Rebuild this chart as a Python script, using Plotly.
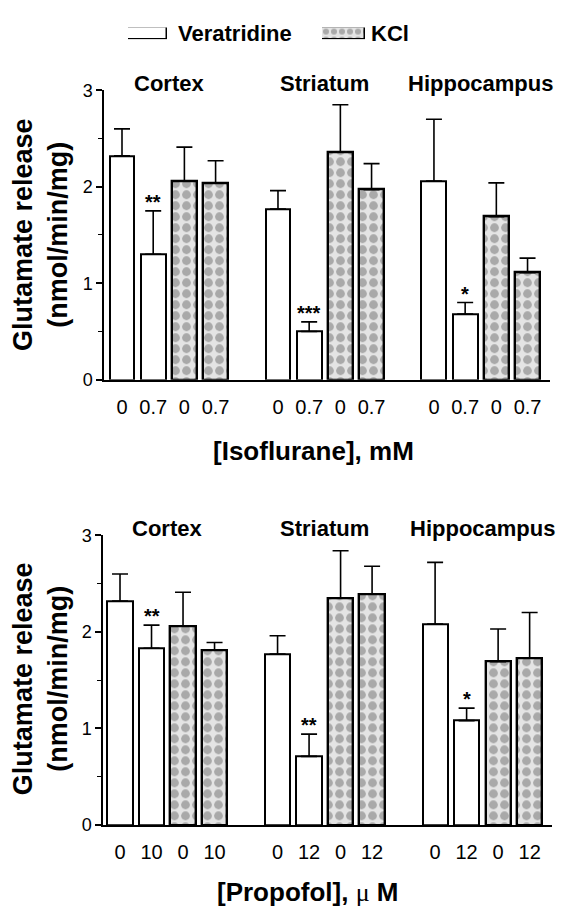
import plotly.graph_objects as go

# ---------------- data ----------------
regions = ["Cortex", "Striatum", "Hippocampus"]

iso_doses = ["0", "0.7"]
iso_ver = [2.32, 1.30, 1.77, 0.50, 2.06, 0.68]          # per region: control, drug
iso_ver_err = [0.28, 0.45, 0.19, 0.10, 0.64, 0.12]
iso_kcl = [2.06, 2.04, 2.36, 1.97, 1.69, 1.11]
iso_kcl_err = [0.35, 0.23, 0.49, 0.27, 0.35, 0.15]
iso_sig = ["", "**", "", "***", "", "*"]

prop_doses = [["0", "10"], ["0", "12"], ["0", "12"]]
prop_ver = [2.32, 1.83, 1.77, 0.71, 2.08, 1.08]
prop_ver_err = [0.28, 0.24, 0.19, 0.23, 0.64, 0.13]
prop_kcl = [2.06, 1.81, 2.35, 2.39, 1.69, 1.73]
prop_kcl_err = [0.35, 0.08, 0.49, 0.29, 0.34, 0.47]
prop_sig = ["", "**", "", "**", "", "*"]

FONT = "Liberation Sans, Arial, Helvetica, sans-serif"
W, H = 562, 920

# positions: 4 bars per region, one empty slot between regions
def positions(slot_offset):
    out = []
    for g in range(len(regions)):
        out += [g * 5 + slot_offset, g * 5 + slot_offset + 1]
    return out

ver_x = positions(0)
kcl_x = positions(2)

pattern = dict(shape=".", fgcolor="#6e6e6e", bgcolor="#e4e4e4", size=11, solidity=0.5)

fig = go.Figure()

def add_panel(xa, ya, ver, ver_err, kcl, kcl_err):
    fig.add_trace(go.Bar(
        x=ver_x, y=ver, width=0.8, xaxis=xa, yaxis=ya, showlegend=False,
        marker=dict(color="white", line=dict(color="black", width=2)),
        error_y=dict(type="data", array=ver_err, arrayminus=[0] * len(ver_err),
                     color="black", thickness=1.6, width=8),
    ))
    fig.add_trace(go.Bar(
        x=kcl_x, y=kcl, width=0.8, xaxis=xa, yaxis=ya, showlegend=False,
        marker=dict(color="#e4e4e4", pattern=pattern, line=dict(color="black", width=2.4)),
        error_y=dict(type="data", array=kcl_err, arrayminus=[0] * len(kcl_err),
                     color="black", thickness=1.6, width=8),
    ))

add_panel("x", "y", iso_ver, iso_ver_err, iso_kcl, iso_kcl_err)
add_panel("x2", "y2", prop_ver, prop_ver_err, prop_kcl, prop_kcl_err)

# legend swatches on tiny hidden axes
fig.add_trace(go.Bar(x=[1], y=[0], orientation="h", width=1, xaxis="x3", yaxis="y3",
                     showlegend=False, cliponaxis=False, hoverinfo="skip",
                     marker=dict(color="white", line=dict(color="black", width=1.5))))
fig.add_trace(go.Bar(x=[1], y=[0], orientation="h", width=1, xaxis="x4", yaxis="y4",
                     showlegend=False, cliponaxis=False, hoverinfo="skip",
                     marker=dict(color="#e4e4e4", pattern=dict(shape=".", fgcolor="#6e6e6e",
                                 bgcolor="#e4e4e4", size=8, solidity=0.45),
                                 line=dict(color="black", width=1.5))))

all_x = sorted(ver_x + kcl_x)
iso_ticktext = []
for g in range(len(regions)):
    iso_ticktext += iso_doses + iso_doses
prop_ticktext = []
for g in range(len(regions)):
    prop_ticktext += prop_doses[g] + prop_doses[g]

xcommon = dict(showline=True, linecolor="black", linewidth=1.5, ticks="", showgrid=False,
               zeroline=False, tickvals=all_x, tickfont=dict(family=FONT, size=20, color="black"),
               ticklabelstandoff=8)
ycommon = dict(range=[0, 3], showline=True, linecolor="black", linewidth=1.5, ticks="outside",
               ticklen=6, tickwidth=1.5, tickcolor="black", tickvals=[0, 1, 2, 3], showgrid=False,
               zeroline=False, tickfont=dict(family=FONT, size=18, color="black"),
               minor=dict(dtick=0.5, ticks="outside", ticklen=4, tickwidth=1.2, tickcolor="black",
                          showgrid=False))

hidden = dict(visible=False, fixedrange=True)

fig.update_layout(
    width=W, height=H, autosize=False,
    margin=dict(l=0, r=0, t=0, b=0),
    paper_bgcolor="white", plot_bgcolor="white",
    bargap=0, showlegend=False,
    xaxis=dict(domain=[104 / W, 550 / W], range=[-0.577, 13.72], anchor="y",
               ticktext=iso_ticktext, **xcommon),
    yaxis=dict(domain=[1 - 378 / H, 1 - 82 / H], anchor="x", **ycommon),
    xaxis2=dict(domain=[103 / W, 552 / W], range=[-0.54, 13.71], anchor="y2",
                ticktext=prop_ticktext, **xcommon),
    yaxis2=dict(domain=[1 - 833 / H, 1 - 537 / H], anchor="x2", **ycommon),
    xaxis3=dict(domain=[128 / W, 167 / W], range=[0, 1], anchor="y3", **hidden),
    yaxis3=dict(domain=[1 - 30 / H, 1 - 18 / H], range=[-0.5, 0.5], anchor="x3", **hidden),
    xaxis4=dict(domain=[322 / W, 365 / W], range=[0, 1], anchor="y4", **hidden),
    yaxis4=dict(domain=[1 - 30 / H, 1 - 18 / H], range=[-0.5, 0.5], anchor="x4", **hidden),
)

ann = []
bold = dict(family=FONT, color="black", weight="bold")

# region titles
for xa, ya in (("x", "y domain"), ("x2", "y2 domain")):
    for g, name in enumerate(regions):
        ann.append(dict(text=name, x=g * 5 + 1.5, xref=xa, y=1, yref=ya, yshift=7,
                        xanchor="center", yanchor="middle", showarrow=False,
                        font=dict(size=22, **bold)))

# y-axis titles
for yc in (1 - 230 / H, 1 - 684 / H):
    ann.append(dict(text="Glutamate release<br>(nmol/min/mg)", x=40 / W, xref="paper",
                    y=yc, yref="paper", textangle=-90, xanchor="center", yanchor="middle",
                    showarrow=False, font=dict(size=27, **bold)))

# x-axis titles
ann.append(dict(text="[Isoflurane], mM", x=313 / W, xref="paper", y=1 - 451 / H, yref="paper",
                xanchor="center", yanchor="middle", showarrow=False, font=dict(size=26, **bold)))
ann.append(dict(text="[Propofol], <span style='font-family:Liberation Serif;font-weight:normal'>μ</span> M",
                x=307 / W, xref="paper", y=1 - 902 / H, yref="paper",
                xanchor="center", yanchor="middle", showarrow=False, font=dict(size=26, **bold)))

# significance marks
for xa, ya, vals, errs, sig in (("x", "y", iso_ver, iso_ver_err, iso_sig),
                                ("x2", "y2", prop_ver, prop_ver_err, prop_sig)):
    for xv, v, e, s in zip(ver_x, vals, errs, sig):
        if s:
            ann.append(dict(text=s, x=xv, xref=xa, y=v + e, yref=ya, yshift=9,
                            xanchor="center", yanchor="middle", showarrow=False,
                            font=dict(family=FONT, size=20, color="black", weight="bold")))

# legend labels
ann.append(dict(text="Veratridine", x=176 / W, xref="paper", y=1 - 24 / H, yref="paper",
                xanchor="left", yanchor="middle", showarrow=False, font=dict(size=22, **bold)))
ann.append(dict(text="KCl", x=369 / W, xref="paper", y=1 - 24 / H, yref="paper",
                xanchor="left", yanchor="middle", showarrow=False, font=dict(size=22, **bold)))

fig.update_layout(annotations=ann)
fig.write_html(
    "out.html",
    config={"displayModeBar": False},
    post_script="document.body.style.margin='0';document.body.style.overflow='hidden';",
)
